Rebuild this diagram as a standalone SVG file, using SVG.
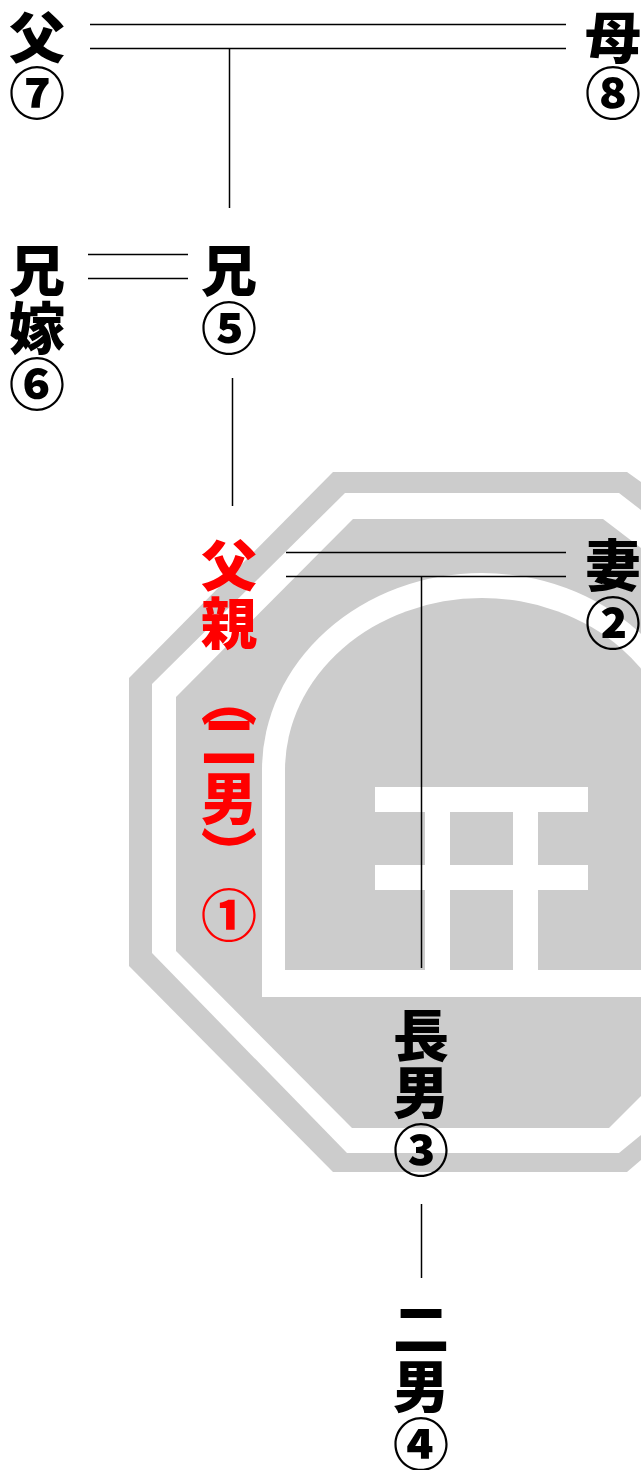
<svg xmlns="http://www.w3.org/2000/svg" width="641" height="1470" viewBox="0 0 641 1470">
<style>
text{font-family:"Noto Sans CJK JP","Noto Sans",sans-serif;font-weight:900;font-size:56px;text-anchor:middle;fill:#000}
.r text{fill:#f00}
.v{writing-mode:vertical-rl}
#connectors line{stroke:#000;stroke-width:1.5;fill:none}
.g{fill:#ccc}
.w{fill:#fff}
</style>
<rect width="641" height="1470" fill="#fff"/>
<g id="emblem">
<polygon class="g" points="129,678 333,472 627,472 641,482 641,1160 627,1172 333,1172 129,966"/>
<polygon class="w" points="152,684 345,493 619,493 641,510 641,1135 619,1153 347,1153 152,953"/>
<polygon class="g" points="176,697 353,519 603,519 641,548 641,1096 609,1128 352,1128 176,951"/>
<path class="w" d="M262,997V770A220,197 0 0 1 702,770V997Z"/>
<path class="g" d="M285,970V770A197,172 0 0 1 679,770V970Z"/>
<g class="w">
<rect x="375" y="787" width="213" height="25"/>
<rect x="375" y="865" width="213" height="25"/>
<rect x="425" y="800" width="25" height="172"/>
<rect x="513" y="800" width="25" height="172"/>
</g>
</g>
<g id="connectors">
<line x1="90" y1="24.5" x2="566" y2="24.5"/>
<line x1="90" y1="48.5" x2="566" y2="48.5"/>
<line x1="229.5" y1="48" x2="229.5" y2="208"/>
<line x1="88" y1="254.5" x2="188" y2="254.5"/>
<line x1="88" y1="278.5" x2="188" y2="278.5"/>
<line x1="232.5" y1="378" x2="232.5" y2="506"/>
<line x1="286" y1="552.5" x2="566" y2="552.5"/>
<line x1="286" y1="576.5" x2="566" y2="576.5"/>
<line x1="421.5" y1="576" x2="421.5" y2="968"/>
<line x1="421.5" y1="1204" x2="421.5" y2="1278"/>
</g>
<g id="node-father"><text x="37" y="58">父</text><text x="37" y="114">⑦</text></g>
<g id="node-mother"><text x="613" y="58">母</text><text x="613" y="114">⑧</text></g>
<g id="node-brother"><text x="229" y="291">兄</text><text x="229" y="349">⑤</text></g>
<g id="node-sister-in-law"><text x="37" y="291">兄</text><text x="37" y="349">嫁</text><text x="37" y="405">⑥</text></g>
<g id="node-self" class="r"><text x="229" y="586">父</text><text x="229" y="644">親</text><text class="v" x="229" y="671" style="text-anchor:start">（</text><text x="229" y="761">二</text><text x="229" y="819">男</text><text class="v" x="229" y="826" style="text-anchor:start">）</text><text x="229" y="936">①</text></g>
<g id="node-wife"><text x="613" y="586">妻</text><text x="613" y="644">②</text></g>
<g id="node-son1"><text x="421" y="1056">長</text><text x="421" y="1113">男</text><text x="421" y="1171">③</text></g>
<g id="node-son2"><text x="421" y="1349">二</text><text x="421" y="1407">男</text><text x="421" y="1465">④</text></g>
</svg>
